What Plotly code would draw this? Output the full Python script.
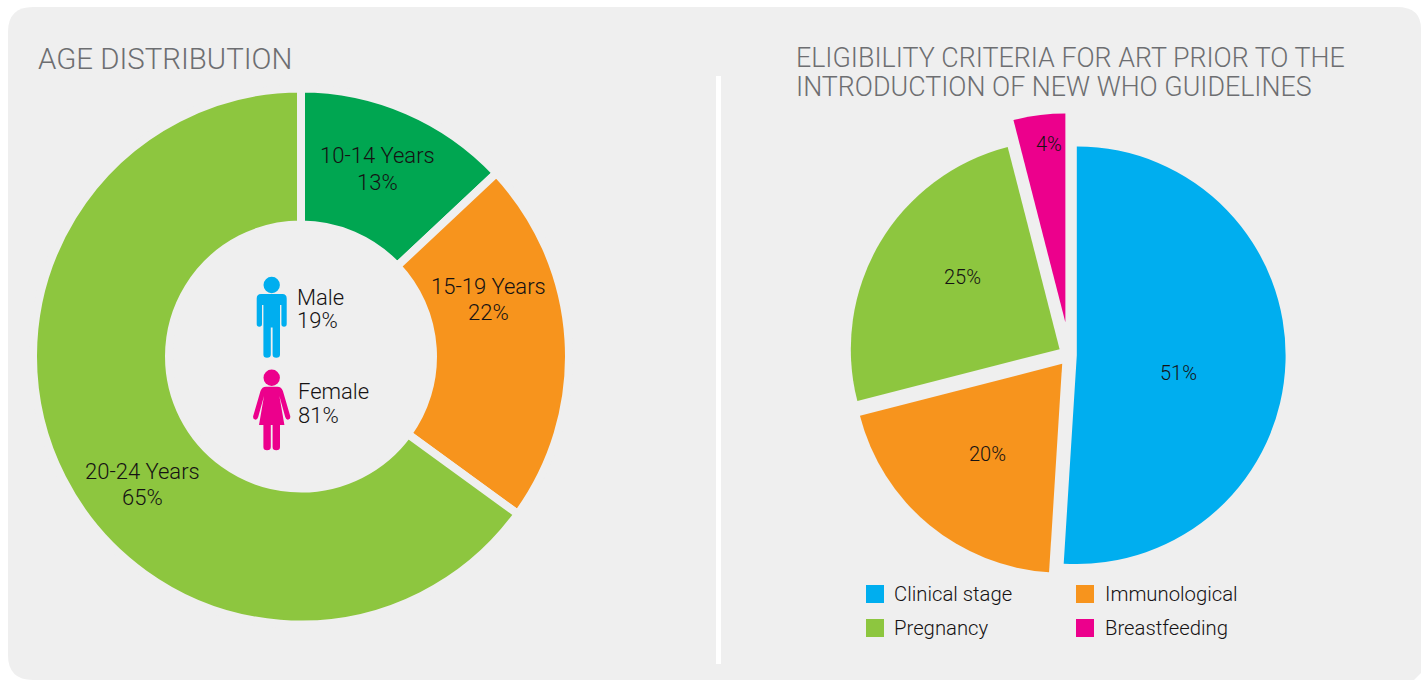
import re
import plotly.graph_objects as go

W, H = 1421, 680

age_labels = ["10-14 Years", "15-19 Years", "20-24 Years"]
age_values = [13, 22, 65]
gender_labels = ["Male", "Female"]
gender_values = [19, 81]
criteria_labels = ["Clinical stage", "Immunological", "Pregnancy", "Breastfeeding"]
criteria_values = [51, 20, 25, 4]
left_title = ["AGE DISTRIBUTION"]
right_title = ["ELIGIBILITY CRITERIA FOR ART PRIOR TO THE", "INTRODUCTION OF NEW WHO GUIDELINES"]

BG = "#efefef"
INK = "#151213"
GREY = "#6d6e71"
age_colors = ["#00a651", "#f7941d", "#8dc63f"]
criteria_colors = ["#00aeef", "#f7941d", "#8dc63f", "#ec008c"]
FONT = "Roboto"
WEIGHT = 300


def fx(x):
    return x / W


def fy(y):
    return 1 - y / H


def dom(cx, cy, r):
    return dict(x=[fx(cx - r), fx(cx + r)], y=[fy(cy + r), fy(cy - r)])


def path(d):
    """Convert a pixel path string to paper coordinates."""
    out, is_x = [], True
    for tok in re.findall(r"[A-Za-z]|-?\d+\.?\d*", d):
        if tok.isalpha():
            out.append(tok)
            is_x = True
        else:
            out.append(f"{fx(float(tok)) if is_x else fy(float(tok)):.6f}")
            is_x = not is_x
    return " ".join(out)


def pshape(d, color):
    return dict(type="path", xref="paper", yref="paper", path=path(d),
                fillcolor=color, line=dict(width=0), layer="below")


def circle(cx, cy, r, color):
    return dict(type="circle", xref="paper", yref="paper", x0=fx(cx - r), x1=fx(cx + r),
                y0=fy(cy + r), y1=fy(cy - r), fillcolor=color, line=dict(width=0), layer="below")


def rect(x0, y0, x1, y1, color):
    return dict(type="rect", xref="paper", yref="paper", x0=fx(x0), x1=fx(x1),
                y0=fy(y1), y1=fy(y0), fillcolor=color, line=dict(width=0), layer="below")


def text(x, y, s, size, color=INK, anchor="center"):
    return dict(xref="paper", yref="paper", x=fx(x), y=fy(y), text=s, showarrow=False,
                xanchor=anchor, yanchor="middle", align="left",
                font=dict(family=FONT, size=size, color=color, weight=WEIGHT))


MALE = ("M 261 294 Q 256.7 294 256.7 298.5 L 256.7 324 Q 256.7 326.8 259.3 326.8 Q 262 326.8 262 324 L 262 305 "
        "L 263.4 305 L 263.4 354.5 Q 263.4 357.8 267 357.8 Q 270.8 357.8 270.8 354.5 L 270.8 327.5 L 272.6 327.5 "
        "L 272.6 354.5 Q 272.6 357.8 276.3 357.8 Q 280 357.8 280 354.5 L 280 305 L 281.4 305 L 281.4 324 "
        "Q 281.4 326.8 284 326.8 Q 286.7 326.8 286.7 324 L 286.7 298.5 Q 286.7 294 282.4 294 Z")
FEMALE = ("M 266 386.7 Q 262 386.7 260.5 391 L 253.2 416 Q 252.6 419 255 419.6 Q 257.3 420 258.2 417 L 264 396 "
          "L 259 425 L 263.4 425 L 263.4 447 Q 263.4 450.3 267 450.3 Q 270.8 450.3 270.8 447 L 270.8 425 L 272.6 425 "
          "L 272.6 447 Q 272.6 450.3 276.3 450.3 Q 280 450.3 280 447 L 280 425 L 284.4 425 L 279.4 396 L 285.2 417 "
          "Q 286.1 420 288.4 419.6 Q 290.8 419 290.2 416 L 282.9 391 Q 281.4 386.7 277.4 386.7 Z")
PANEL = ("M 33 7 L 1397 7 Q 1421 7 1421 29 L 1421 673 L 1414 680 "
         "L 33 680 Q 8 680 8 655 L 8 32 Q 8 7 33 7 Z")

shapes = [
    pshape(PANEL, BG),
    rect(716, 76, 721, 664, "#ffffff"),
    circle(271.7, 285, 8.2, "#00aeef"),
    pshape(MALE, "#00aeef"),
    circle(271.7, 377.7, 8.2, "#ec008c"),
    pshape(FEMALE, "#ec008c"),
]

annotations = [text(36, 59, left_title[0], 29.4, GREY, "left")]
for y, line in zip([58, 87], right_title):
    annotations.append(text(794, y, line, 26.8, GREY, "left"))

age_pos = [(377, 156), (488, 286), (142, 471)]
for (x, y), lab, val in zip(age_pos, age_labels, age_values):
    annotations.append(text(x, y, lab, 22, INK))
    annotations.append(text(x, y + 27, f"{val}%", 22, INK))

gender_pos = [(295, 297), (296, 392)]
for (x, y), lab, val in zip(gender_pos, gender_labels, gender_values):
    annotations.append(text(x, y, lab, 22, INK, "left"))
    annotations.append(text(x, y + 23, f"{val}%", 22, INK, "left"))

crit_pos = [(1178, 373), (987, 454), (962, 277), (1049, 144)]
for (x, y), val in zip(crit_pos, criteria_values):
    annotations.append(text(x, y, f"{val}%", 20, INK))

legend_pos = [(866, 594), (1076, 594), (866, 628), (1076, 628)]
for (x, y), lab, col in zip(legend_pos, criteria_labels, criteria_colors):
    shapes.append(rect(x, y - 9, x + 18, y + 9, col))
    annotations.append(text(x + 26.5, y, lab, 20.3, INK, "left"))

fig = go.Figure()
fig.add_trace(go.Pie(
    labels=age_labels, values=age_values, sort=False, direction="clockwise", rotation=0,
    hole=0.4925, textinfo="none", showlegend=False,
    marker=dict(colors=age_colors, line=dict(color=BG, width=8)),
    domain=dom(301, 356.5, 268),
))
fig.add_trace(go.Pie(
    labels=criteria_labels, values=criteria_values, sort=False, direction="clockwise", rotation=0,
    pull=[0.035, 0.055, 0.055, 0.158], textinfo="none", showlegend=False,
    marker=dict(colors=criteria_colors, line=dict(width=0)),
    domain=dom(1069.5, 355, 241.8),
))
fig.update_layout(
    width=W, height=H, autosize=False, margin=dict(l=0, r=0, t=0, b=0),
    paper_bgcolor="#ffffff", plot_bgcolor="#ffffff",
    shapes=shapes, annotations=annotations,
    font=dict(family=FONT),
)
fig.write_html("out.html", config=dict(displayModeBar=False),
               post_script="document.body.style.margin='0';document.body.style.overflow='hidden';")
